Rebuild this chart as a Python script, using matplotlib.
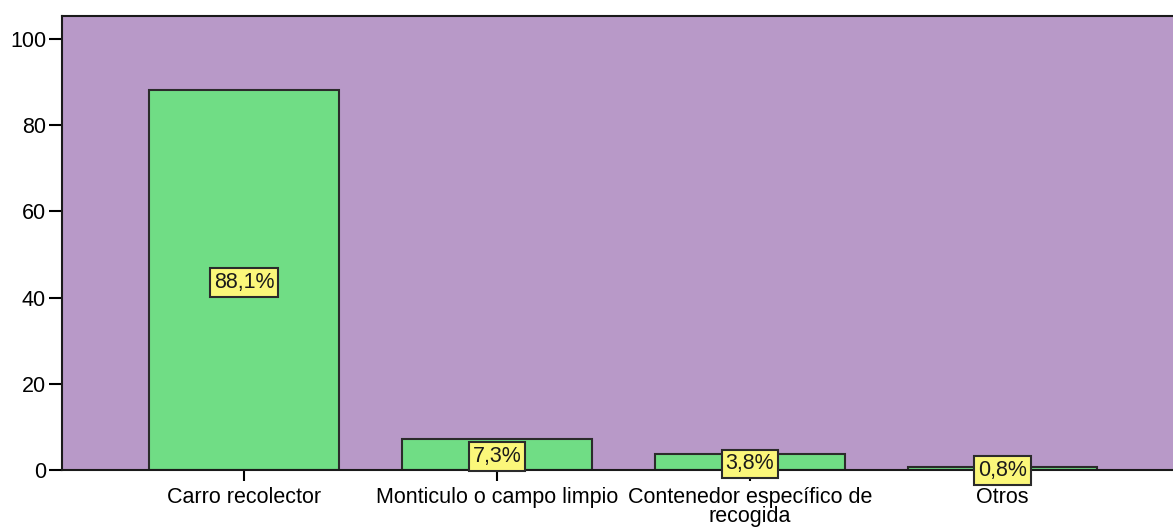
import matplotlib

matplotlib.use("Agg")
import matplotlib.pyplot as plt

categories = [
    "Carro recolector",
    "Monticulo o campo limpio",
    "Contenedor específico de\nrecogida",
    "Otros",
]
percentages = [88.1, 7.3, 3.8, 0.8]
labels = ["88,1%", "7,3%", "3,8%", "0,8%"]
yticks = [0, 20, 40, 60, 80, 100]

plt.rcParams["font.family"] = ["Liberation Sans", "DejaVu Sans"]

fig = plt.figure(figsize=(11.73, 5.27), dpi=100)
ax = fig.add_axes([62 / 1173, 57 / 527, 1 - 62 / 1173 + 0.01, (470 - 16) / 527])
ax.set_facecolor("#b899c8")

x = list(range(len(categories)))
ax.bar(x, percentages, width=0.75, color="#70dd85", edgecolor="#2b2b2b", linewidth=1.5, zorder=2)

for xi, v, lab in zip(x, percentages, labels):
    ax.annotate(
        lab,
        (xi, v / 2),
        xytext=(0, -1.5),
        textcoords="offset points",
        ha="center",
        va="center",
        fontsize=15.5,
        color="#1a1a1a",
        zorder=4,
        bbox=dict(boxstyle="square,pad=0.18", facecolor="#fbf77a", edgecolor="#2b2b2b", linewidth=1.5),
    )

ax.set_xlim(-0.72, 3.72)
ax.set_ylim(0, 105.3)
ax.set_yticks(yticks)
ax.set_xticks(x)
ax.set_xticklabels(categories, fontsize=15.5, linespacing=0.9)
ax.tick_params(axis="y", labelsize=15.5, length=9.5, width=1.5, pad=2)
ax.tick_params(axis="x", length=8, width=1.5, pad=4)
for side in ["left", "bottom", "top"]:
    ax.spines[side].set_linewidth(1.5)
    ax.spines[side].set_color("#1a1a1a")
ax.spines["right"].set_visible(False)

fig.savefig("out.png", dpi=100)
